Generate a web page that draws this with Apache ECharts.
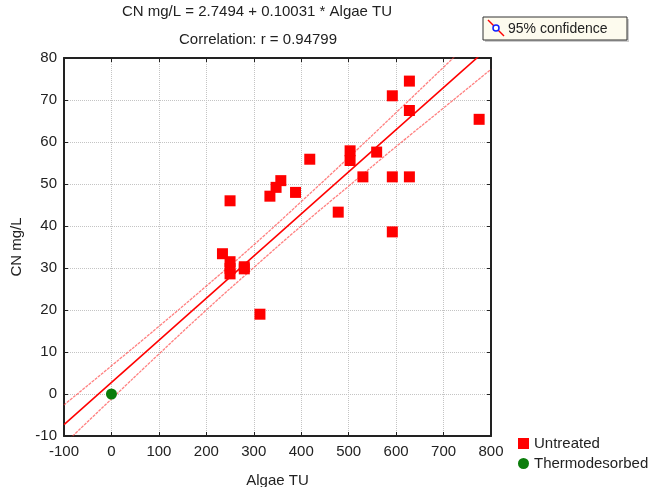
<!DOCTYPE html>
<html>
<head>
<meta charset="UTF-8">
<title>CN mg/L vs Algae TU</title>
<script src="https://cdn.jsdelivr.net/npm/echarts@6/dist/echarts.min.js"></script>
<style>body{margin:0;background:#fff;}</style>
</head>
<body>
<div id="main" style="width:661px;height:487px;"></div>
<script type="text/javascript">
// points: [Algae TU, CN mg/L]
var untreated = [
	[234, 33.4], [250, 31.5], [250, 29.9], [250, 28.6], [280, 30.3], [280, 29.8],
	[313, 19.0], [250, 46.0], [334, 47.1], [347, 49.2], [357, 50.8], [388, 48.0],
	[418, 55.9], [478, 43.3], [503, 57.9], [503, 55.6], [530, 51.7], [559, 57.6],
	[592, 71.0], [592, 51.7], [592, 38.6], [628, 74.5], [628, 67.5], [628, 51.7],
	[775, 65.4]
];
var thermodesorbed = [[0, 0]];

// regression line ends (CN = 2.7494 + 0.10031 * TU)
var fitLine = [[-100, -7.28], [800, 83.0]];

// 95% confidence band, read at every 100 TU
var bandX = [-100, 0, 100, 200, 300, 400, 500, 600, 700, 800];
var bandUpper = [-2.6, 6.7, 16.1, 25.7, 35.5, 45.8, 56.3, 67.0, 77.8, 88.7];
var bandLower = [-12.0, -1.2, 9.5, 20.0, 30.1, 40.0, 49.5, 58.9, 68.1, 77.3];

var titleLine1 = 'CN mg/L = 2.7494 + 0.10031 * Algae TU';
var titleLine2 = 'Correlation: r = 0.94799';

function pairs(xs, ys) {
	var out = [];
	for (var i = 0; i < xs.length; i++) out.push([xs[i], ys[i]]);
	return out;
}

var font = '"Liberation Sans", Arial, sans-serif';
var bandStyle = {color: 'rgba(255,60,60,0.65)', width: 1.3, type: [3, 1]};

option = {
	animation: false,
	backgroundColor: '#fff',
	textStyle: {fontFamily: font, color: '#222'},
	grid: {left: 64, right: 170, top: 58, bottom: 51, containLabel: false, outerBoundsMode: 'none'},
	legend: {
		orient: 'vertical',
		left: 513,
		top: 431,
		itemWidth: 11,
		itemHeight: 11,
		itemGap: 5,
		textStyle: {fontSize: 15, color: '#222', fontFamily: font},
		data: [
			{name: 'Untreated', icon: 'rect'},
			{name: 'Thermodesorbed', icon: 'circle'}
		]
	},
	graphic: [
		{type: 'text', x: 257, y: 12, style: {text: titleLine1, fill: '#222', font: '15px ' + font, textAlign: 'center', textVerticalAlign: 'middle'}},
		{type: 'text', x: 258, y: 40, style: {text: titleLine2, fill: '#222', font: '15px ' + font, textAlign: 'center', textVerticalAlign: 'middle'}},
		{type: 'rect', shape: {x: 485, y: 19, width: 144, height: 23}, style: {fill: '#ccc'}},
		{type: 'rect', shape: {x: 483, y: 17, width: 144, height: 23}, style: {fill: '#fdfbee', stroke: '#333', lineWidth: 1}},
		{type: 'line', shape: {x1: 488, y1: 20, x2: 504, y2: 36}, style: {stroke: '#ff0000', lineWidth: 1.5}},
		{type: 'circle', shape: {cx: 496, cy: 28, r: 3}, style: {fill: '#fff', stroke: '#1020ff', lineWidth: 1.5}},
		{type: 'text', x: 508, y: 29, style: {text: '95% confidence', fill: '#222', font: '14px ' + font, textVerticalAlign: 'middle'}}
	],
	xAxis: [{
		type: 'value',
		min: -100,
		max: 800,
		interval: 100,
		name: 'Algae TU',
		nameLocation: 'middle',
		nameGap: 37,
		nameTextStyle: {fontSize: 15, color: '#222'},
		axisLine: {show: true, onZero: false, lineStyle: {color: '#222', width: 2}},
		axisTick: {show: true, inside: true, length: 4, lineStyle: {color: '#222'}},
		axisLabel: {fontSize: 15, color: '#222', margin: 8},
		splitLine: {show: true, lineStyle: {color: '#c4c4c4', type: 'dotted', width: 1}}
	}, {
		type: 'value',
		position: 'top',
		min: -100,
		max: 800,
		interval: 100,
		axisLine: {show: true, onZero: false, lineStyle: {color: '#222', width: 2}},
		axisTick: {show: true, inside: true, length: 4, lineStyle: {color: '#222'}},
		axisLabel: {show: false},
		splitLine: {show: false}
	}],
	yAxis: [{
		type: 'value',
		min: -10,
		max: 80,
		interval: 10,
		name: 'CN mg/L',
		nameLocation: 'middle',
		nameGap: 40,
		nameTextStyle: {fontSize: 15, color: '#222'},
		axisLine: {show: true, onZero: false, lineStyle: {color: '#222', width: 2}},
		axisTick: {show: true, inside: true, length: 4, lineStyle: {color: '#222'}},
		axisLabel: {fontSize: 15, color: '#222', margin: 7},
		splitLine: {show: true, lineStyle: {color: '#c4c4c4', type: 'dotted', width: 1}}
	}, {
		type: 'value',
		position: 'right',
		min: -10,
		max: 80,
		interval: 10,
		axisLine: {show: true, onZero: false, lineStyle: {color: '#222', width: 2}},
		axisTick: {show: true, inside: true, length: 4, lineStyle: {color: '#222'}},
		axisLabel: {show: false},
		splitLine: {show: false}
	}],
	series: [{
		name: 'upper',
		type: 'line',
		data: pairs(bandX, bandUpper),
		smooth: true,
		symbol: 'none',
		clip: true,
		lineStyle: bandStyle,
		z: 2
	}, {
		name: 'lower',
		type: 'line',
		data: pairs(bandX, bandLower),
		smooth: true,
		symbol: 'none',
		clip: true,
		lineStyle: bandStyle,
		z: 2
	}, {
		name: 'fit',
		type: 'line',
		data: fitLine,
		symbol: 'none',
		clip: true,
		lineStyle: {color: '#ff0000', width: 1.6},
		z: 3
	}, {
		name: 'Untreated',
		type: 'scatter',
		data: untreated,
		symbol: 'rect',
		symbolSize: 11,
		itemStyle: {color: '#ff0000', opacity: 1},
		z: 4
	}, {
		name: 'Thermodesorbed',
		type: 'scatter',
		data: thermodesorbed,
		symbol: 'circle',
		symbolSize: 11,
		itemStyle: {color: '#0b7d0b', opacity: 1},
		z: 4
	}]
};

echarts.init(document.getElementById('main')).setOption(option);
</script>
</body>
</html>
